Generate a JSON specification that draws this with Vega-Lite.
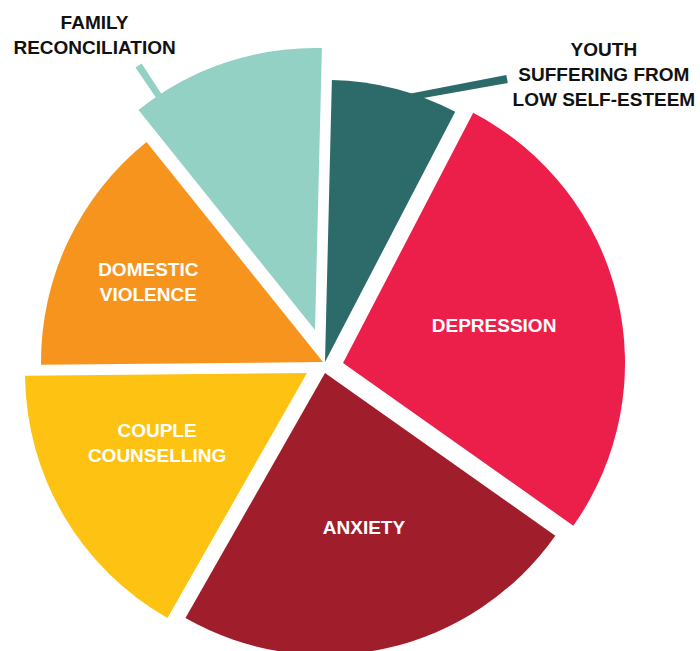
{
  "$schema": "https://vega.github.io/schema/vega-lite/v6.json",
  "width": 648,
  "height": 578,
  "autosize": {"type": "none"},
  "padding": {"left": 0, "top": 73, "right": 52, "bottom": 0},
  "background": "white",
  "view": {"stroke": null},
  "config": {"text": {"font": "Liberation Sans", "fontWeight": "bold", "fontSize": 19, "lineBreak": "\n", "lineHeight": 25, "align": "center", "baseline": "middle"}},
  "data": {"values": [
    {"order": 1, "category": "Youth suffering from low self-esteem", "label": "YOUTH\nSUFFERING FROM\nLOW SELF-ESTEEM", "value": 7.25},
    {"order": 2, "category": "Depression", "label": "DEPRESSION", "value": 27.15},
    {"order": 3, "category": "Anxiety", "label": "ANXIETY", "value": 23.45},
    {"order": 4, "category": "Couple counselling", "label": "COUPLE\nCOUNSELLING", "value": 16.6},
    {"order": 5, "category": "Domestic violence", "label": "DOMESTIC\nVIOLENCE", "value": 14.4},
    {"order": 6, "category": "Family reconciliation", "label": "FAMILY\nRECONCILIATION", "value": 11.15}
  ]},
  "transform": [
    {"stack": "value", "groupby": [], "sort": [{"field": "order", "order": "ascending"}], "as": ["v0", "v1"]},
    {"calculate": "(datum.v0 + datum.v1) / 2", "as": "vmid"}
  ],
  "encoding": {
    "color": {"field": "category", "type": "nominal", "legend": null,
      "scale": {"domain": ["Youth suffering from low self-esteem", "Depression", "Anxiety", "Couple counselling", "Domestic violence", "Family reconciliation"],
                "range": ["#2d6b6b", "#ec1f4b", "#a01d2c", "#fec212", "#f7941e", "#93d1c5"]}}
  },
  "layer": [
    {
      "transform": [{"filter": "datum.order === 1"}],
      "layer": [
        {"mark": {"type": "arc", "radius": 282, "xOffset": 1, "yOffset": 0},
         "encoding": {"theta": {"field": "v0", "type": "quantitative", "scale": {"domain": [0, 100], "range": [0.0244, 6.3076]}}, "theta2": {"field": "v1"}}},
        {"mark": {"type": "arc", "radius": 493.6, "radius2": 395, "thetaOffset": 1.3553, "theta2Offset": 1.3721, "xOffset": -302.3, "yOffset": -193.3},
         "encoding": {"theta": {"field": "v0", "type": "quantitative", "scale": {"domain": [0, 100], "range": [0.0244, 6.3076]}}, "theta2": {"field": "v0"}}},
        {"mark": {"type": "text", "radius": 296, "dx": 206, "dy": -25},
         "encoding": {"theta": {"field": "vmid", "type": "quantitative", "scale": {"domain": [0, 100], "range": [0.0244, 6.3076]}}, "text": {"field": "label"}, "color": {"value": "#111111"}}}
      ]
    },
    {
      "transform": [{"filter": "datum.order === 2"}],
      "layer": [
        {"mark": {"type": "arc", "radius": 282, "xOffset": 19, "yOffset": 1},
         "encoding": {"theta": {"field": "v0", "type": "quantitative", "scale": {"domain": [0, 100], "range": [0.0244, 6.3076]}}, "theta2": {"field": "v1"}}},
        {"mark": {"type": "text", "radius": 175, "dx": 0, "dy": 5},
         "encoding": {"theta": {"field": "vmid", "type": "quantitative", "scale": {"domain": [0, 100], "range": [0.0244, 6.3076]}}, "text": {"field": "label"}, "color": {"value": "white"}}}
      ]
    },
    {
      "transform": [{"filter": "datum.order === 3"}],
      "layer": [
        {"mark": {"type": "arc", "radius": 282, "xOffset": 1, "yOffset": 11},
         "encoding": {"theta": {"field": "v0", "type": "quantitative", "scale": {"domain": [0, 100], "range": [0.0244, 6.3076]}}, "theta2": {"field": "v1"}}},
        {"mark": {"type": "text", "radius": 170, "dx": 3, "dy": 0},
         "encoding": {"theta": {"field": "vmid", "type": "quantitative", "scale": {"domain": [0, 100], "range": [0.0244, 6.3076]}}, "text": {"field": "label"}, "color": {"value": "white"}}}
      ]
    },
    {
      "transform": [{"filter": "datum.order === 4"}],
      "layer": [
        {"mark": {"type": "arc", "radius": 282, "xOffset": -17, "yOffset": 11},
         "encoding": {"theta": {"field": "v0", "type": "quantitative", "scale": {"domain": [0, 100], "range": [0.0244, 6.3076]}}, "theta2": {"field": "v1"}}},
        {"mark": {"type": "text", "radius": 185, "dx": -7.5, "dy": -24.5},
         "encoding": {"theta": {"field": "vmid", "type": "quantitative", "scale": {"domain": [0, 100], "range": [0.0244, 6.3076]}}, "text": {"field": "label"}, "color": {"value": "white"}}}
      ]
    },
    {
      "transform": [{"filter": "datum.order === 5"}],
      "layer": [
        {"mark": {"type": "arc", "radius": 282, "xOffset": -1, "yOffset": 0},
         "encoding": {"theta": {"field": "v0", "type": "quantitative", "scale": {"domain": [0, 100], "range": [0.0244, 6.3076]}}, "theta2": {"field": "v1"}}},
        {"mark": {"type": "text", "radius": 190, "dx": -4, "dy": -10.5},
         "encoding": {"theta": {"field": "vmid", "type": "quantitative", "scale": {"domain": [0, 100], "range": [0.0244, 6.3076]}}, "text": {"field": "label"}, "color": {"value": "white"}}}
      ]
    },
    {
      "transform": [{"filter": "datum.order === 6"}],
      "layer": [
        {"mark": {"type": "arc", "radius": 282, "xOffset": -9, "yOffset": -32},
         "encoding": {"theta": {"field": "v0", "type": "quantitative", "scale": {"domain": [0, 100], "range": [0.0244, 6.3076]}}, "theta2": {"field": "v1"}}},
        {"mark": {"type": "arc", "radius": 318, "radius2": 270, "thetaOffset": 0.0763, "theta2Offset": 0.0997, "xOffset": -9, "yOffset": -32},
         "encoding": {"theta": {"field": "v0", "type": "quantitative", "scale": {"domain": [0, 100], "range": [0.0244, 6.3076]}}, "theta2": {"field": "v0"}}},
        {"mark": {"type": "text", "radius": 345, "dx": -119, "dy": -12.5},
         "encoding": {"theta": {"field": "vmid", "type": "quantitative", "scale": {"domain": [0, 100], "range": [0.0244, 6.3076]}}, "text": {"field": "label"}, "color": {"value": "#111111"}}}
      ]
    }
  ]
}
